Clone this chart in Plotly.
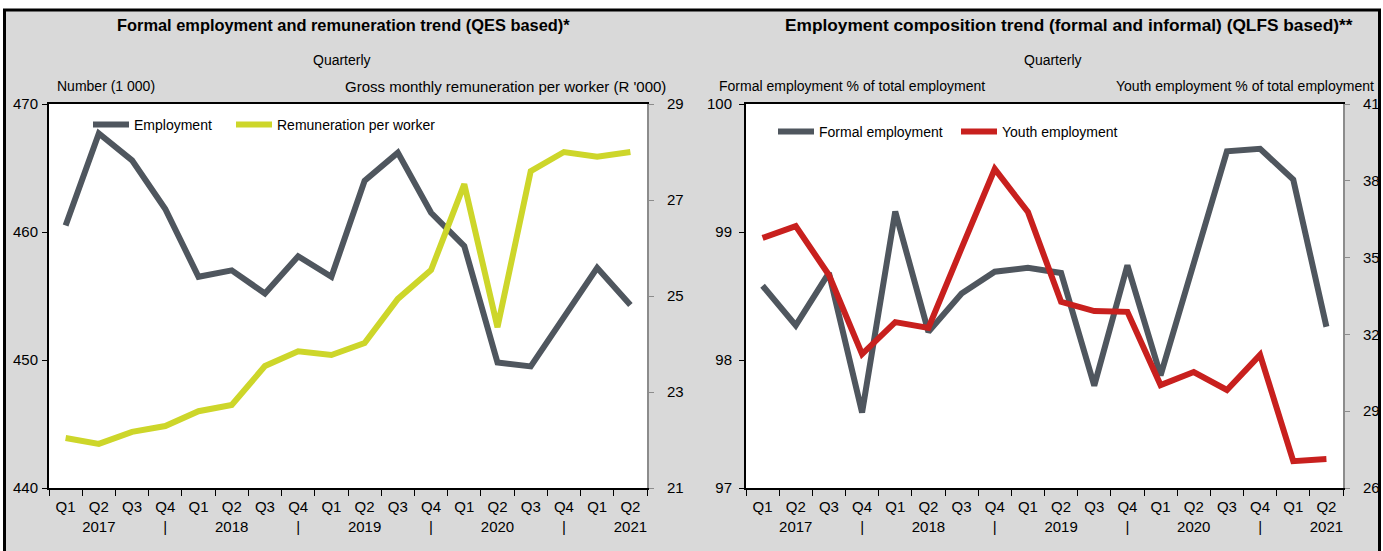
import plotly.graph_objects as go

W, H = 1383, 551

# categories (quarters) and axis labels
quarters = ["Q1 2017", "Q2 2017", "Q3 2017", "Q4 2017",
            "Q1 2018", "Q2 2018", "Q3 2018", "Q4 2018",
            "Q1 2019", "Q2 2019", "Q3 2019", "Q4 2019",
            "Q1 2020", "Q2 2020", "Q3 2020", "Q4 2020",
            "Q1 2021", "Q2 2021"]
tick_labels = ["Q1<br> ", "Q2<br>2017", "Q3<br> ", "Q4<br>|",
               "Q1<br> ", "Q2<br>2018", "Q3<br> ", "Q4<br>|",
               "Q1<br> ", "Q2<br>2019", "Q3<br> ", "Q4<br>|",
               "Q1<br> ", "Q2<br>2020", "Q3<br> ", "Q4<br>|",
               "Q1<br> ", "Q2<br>2021"]

# left panel: QES
employment = [460.5, 467.7, 465.6, 461.8, 456.5, 457.0, 455.2, 458.1, 456.5,
              464.0, 466.2, 461.5, 458.9, 449.8, 449.5, 453.3, 457.2, 454.3]
remuneration = [22.04, 21.92, 22.17, 22.29, 22.6, 22.73, 23.54, 23.85, 23.77,
                24.02, 24.94, 25.54, 27.33, 24.35, 27.6, 28.0, 27.9, 28.0]

# right panel: QLFS
formal_share = [98.58, 98.27, 98.68, 97.59, 99.16, 98.22, 98.52, 98.69, 98.72,
                98.68, 97.8, 98.74, 97.88, 98.75, 99.63, 99.65, 99.41, 98.26]
youth_share = [35.77, 36.23, 34.32, 31.23, 32.48, 32.25, 35.37, 38.46, 36.78,
               33.27, 32.91, 32.88, 30.02, 30.53, 29.83, 31.2, 27.05, 27.13]

GREY = "#4f565e"
LIME = "#cdd62a"
RED = "#c8201e"
BG = "#d9d9d9"
FONT = "Liberation Sans Narrow, Arial Narrow, Liberation Sans, Arial"


def px(x):
    return x / W


def py(y):
    return 1 - y / H


fig = go.Figure()
fig.add_trace(go.Scatter(x=quarters, y=employment, name="Employment", mode="lines",
                         line=dict(color=GREY, width=6), xaxis="x", yaxis="y",
                         legend="legend"))
fig.add_trace(go.Scatter(x=quarters, y=remuneration, name="Remuneration per worker",
                         mode="lines", line=dict(color=LIME, width=6),
                         xaxis="x", yaxis="y2", legend="legend2"))
fig.add_trace(go.Scatter(x=quarters, y=formal_share, name="Formal employment",
                         mode="lines", line=dict(color=GREY, width=6),
                         xaxis="x2", yaxis="y3", legend="legend3"))
fig.add_trace(go.Scatter(x=quarters, y=youth_share, name="Youth employment",
                         mode="lines", line=dict(color=RED, width=6),
                         xaxis="x2", yaxis="y4", legend="legend4"))

ydom = [py(488), py(104)]
xcommon = dict(type="category", tickmode="array", tickvals=quarters, ticktext=tick_labels,
               tickson="boundaries", ticks="outside", ticklen=6, tickcolor="black",
               showline=True, linecolor="black", linewidth=2, mirror=True,
               showgrid=False, tickfont=dict(size=15, color="black"), tickangle=0,
               ticklabelstandoff=4, automargin=False, range=[-0.5, 17.5], fixedrange=True)
ycommon = dict(showgrid=False, zeroline=False, ticks="outside", ticklen=5,
               showline=True, linewidth=2, automargin=False,
               tickfont=dict(size=15, color="black"))


def leg(x, y):
    return dict(x=px(x), y=py(y), yanchor="middle", xanchor="left",
                bgcolor="rgba(0,0,0,0)", font=dict(size=14), itemwidth=36)


fig.update_layout(
    width=W, height=H,
    margin=dict(l=0, r=0, t=0, b=0, autoexpand=False),
    paper_bgcolor=BG, plot_bgcolor="white", showlegend=True,
    font=dict(family=FONT, color="black"),
    xaxis=dict(domain=[px(49), px(647)], anchor="y", **xcommon),
    xaxis2=dict(domain=[px(746), px(1343)], anchor="y3", **xcommon),
    yaxis=dict(domain=ydom, anchor="x", range=[440, 470], tickvals=[440, 450, 460, 470],
               linecolor="black", tickcolor="black", ticklabelstandoff=1, **ycommon),
    yaxis2=dict(overlaying="y", side="right", anchor="x", range=[21, 29],
                tickvals=[21, 23, 25, 27, 29], linecolor="#8c8c8c", tickcolor="#8c8c8c",
                ticklabelstandoff=10, **ycommon),
    yaxis3=dict(domain=ydom, anchor="x2", range=[97, 100], tickvals=[97, 98, 99, 100],
                linecolor="black", tickcolor="black", ticklabelstandoff=4, **ycommon),
    yaxis4=dict(overlaying="y3", side="right", anchor="x2", range=[26, 41],
                tickvals=[26, 29, 32, 35, 38, 41], linecolor="#8c8c8c", tickcolor="#8c8c8c",
                ticklabelstandoff=10, **ycommon),
    legend=leg(88, 125),
    legend2=leg(231, 125),
    legend3=leg(773, 132),
    legend4=leg(956, 132),
)

ann = [
    ("<b>Formal employment and remuneration trend (QES based)*</b>", 343, 25, "center", 16.4),
    ("<b>Employment composition trend (formal and informal) (QLFS based)**</b>", 1069, 25, "center", 17.3),
    ("Quarterly", 342, 60, "center", 14),
    ("Quarterly", 1053, 60, "center", 14),
    ("Number (1 000)", 55, 86, "left", 14),
    ("Gross monthly remuneration per worker (R '000)", 668, 86, "right", 15),
    ("Formal employment % of total employment", 717, 86, "left", 14),
    ("Youth employment % of total employment", 1376, 86, "right", 14),
]
for text, x, y, xa, size in ann:
    fig.add_annotation(text=text, x=px(x), y=py(y), xref="paper", yref="paper",
                       xanchor=xa, yanchor="middle", showarrow=False,
                       font=dict(size=size, color="black"))

# white strip + black frame around the chart box
fig.add_shape(type="rect", xref="paper", yref="paper", x0=0, x1=1, y0=py(10), y1=1,
              fillcolor="white", line_width=0)
fig.add_shape(type="rect", xref="paper", yref="paper", x0=0, x1=px(3), y0=0, y1=1,
              fillcolor="white", line_width=0)
fig.add_shape(type="rect", xref="paper", yref="paper", x0=px(1381), x1=1, y0=0, y1=1,
              fillcolor="white", line_width=0)
for x0, y0, x1, y1 in [(3, 10, 1381, 10), (4.5, 10, 4.5, 551), (1379.5, 10, 1379.5, 551)]:
    fig.add_shape(type="line", xref="paper", yref="paper", x0=px(x0), y0=py(y0),
                  x1=px(x1), y1=py(y1), line=dict(color="black", width=3))

# page body has an 8px default margin; drop it so the figure fills the window
fig.write_html("out.html", config={"displayModeBar": False},
               post_script="document.body.style.margin='0';")
